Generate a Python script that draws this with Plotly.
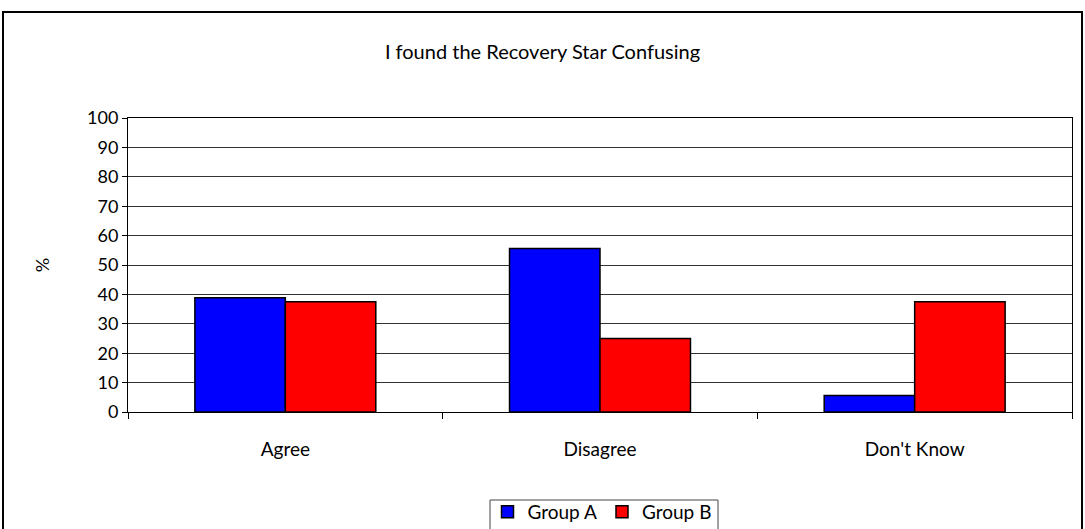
import plotly.graph_objects as go

categories = ["Agree", "Disagree", "Don't Know"]
group_a = [38.9, 55.6, 5.6]
group_b = [37.5, 25.0, 37.5]
y_ticks = [0, 10, 20, 30, 40, 50, 60, 70, 80, 90, 100]

W, H = 1085, 529
L, R, T, B = 128, 13, 118, 117
pw, ph = W - L - R, H - T - B

def px(x):
    return (x - L) / pw

def py(y):
    return (H - B - y) / ph

fig = go.Figure()
fig.add_trace(go.Bar(name="Group A", x=categories, y=group_a,
                     marker=dict(color="#0000FF", line=dict(color="black", width=1.5))))
fig.add_trace(go.Bar(name="Group B", x=categories, y=group_b,
                     marker=dict(color="#FF0000", line=dict(color="black", width=1.5))))

font_family = "Lato, 'Open Sans', sans-serif"
fig.update_layout(
    width=W, height=H,
    margin=dict(l=L, r=R, t=T, b=B, autoexpand=False),
    paper_bgcolor="white", plot_bgcolor="white",
    barmode="group", bargap=0.425, bargroupgap=0,
    font=dict(family=font_family, size=18, color="black"),
    title=dict(text="I found the Recovery Star Confusing", x=0.5, xanchor="center",
               y=1 - 52 / H, yanchor="middle", font=dict(size=20, color="black")),
    showlegend=True,
    legend=dict(orientation="h", x=px(602), xanchor="center", yref="container",
                y=1 - 493 / H, yanchor="top",
                borderwidth=0, bgcolor="rgba(0,0,0,0)",
                font=dict(size=19), itemwidth=30, tracegroupgap=0),
    xaxis=dict(showline=True, linecolor="black", linewidth=1, mirror=True,
               ticks="outside", tickson="boundaries", ticklen=6, tickcolor="black",
               showgrid=False, tickfont=dict(size=19), ticklabelstandoff=20),
    yaxis=dict(range=[0, 100], tickvals=y_ticks, showline=True, linecolor="black",
               linewidth=1, mirror=True, ticks="outside", ticklen=5, tickcolor="black",
               showgrid=True, gridcolor="#333333", gridwidth=1,
               title=dict(text="%", standoff=32, font=dict(size=18)),
               tickfont=dict(size=18)),
)

# outer chart frame
fig.add_shape(type="rect", xref="paper", yref="paper",
              x0=px(3), x1=px(1082), y0=py(560), y1=py(12),
              line=dict(color="black", width=2), fillcolor="rgba(0,0,0,0)", layer="below")
# legend frame
fig.add_shape(type="rect", xref="paper", yref="paper",
              x0=px(490), x1=px(718), y0=py(545), y1=py(500),
              line=dict(color="#444444", width=1), fillcolor="rgba(0,0,0,0)", layer="below")

fig.write_html("out.html", config={"displayModeBar": False},
               post_script="document.body.style.margin='0';")
